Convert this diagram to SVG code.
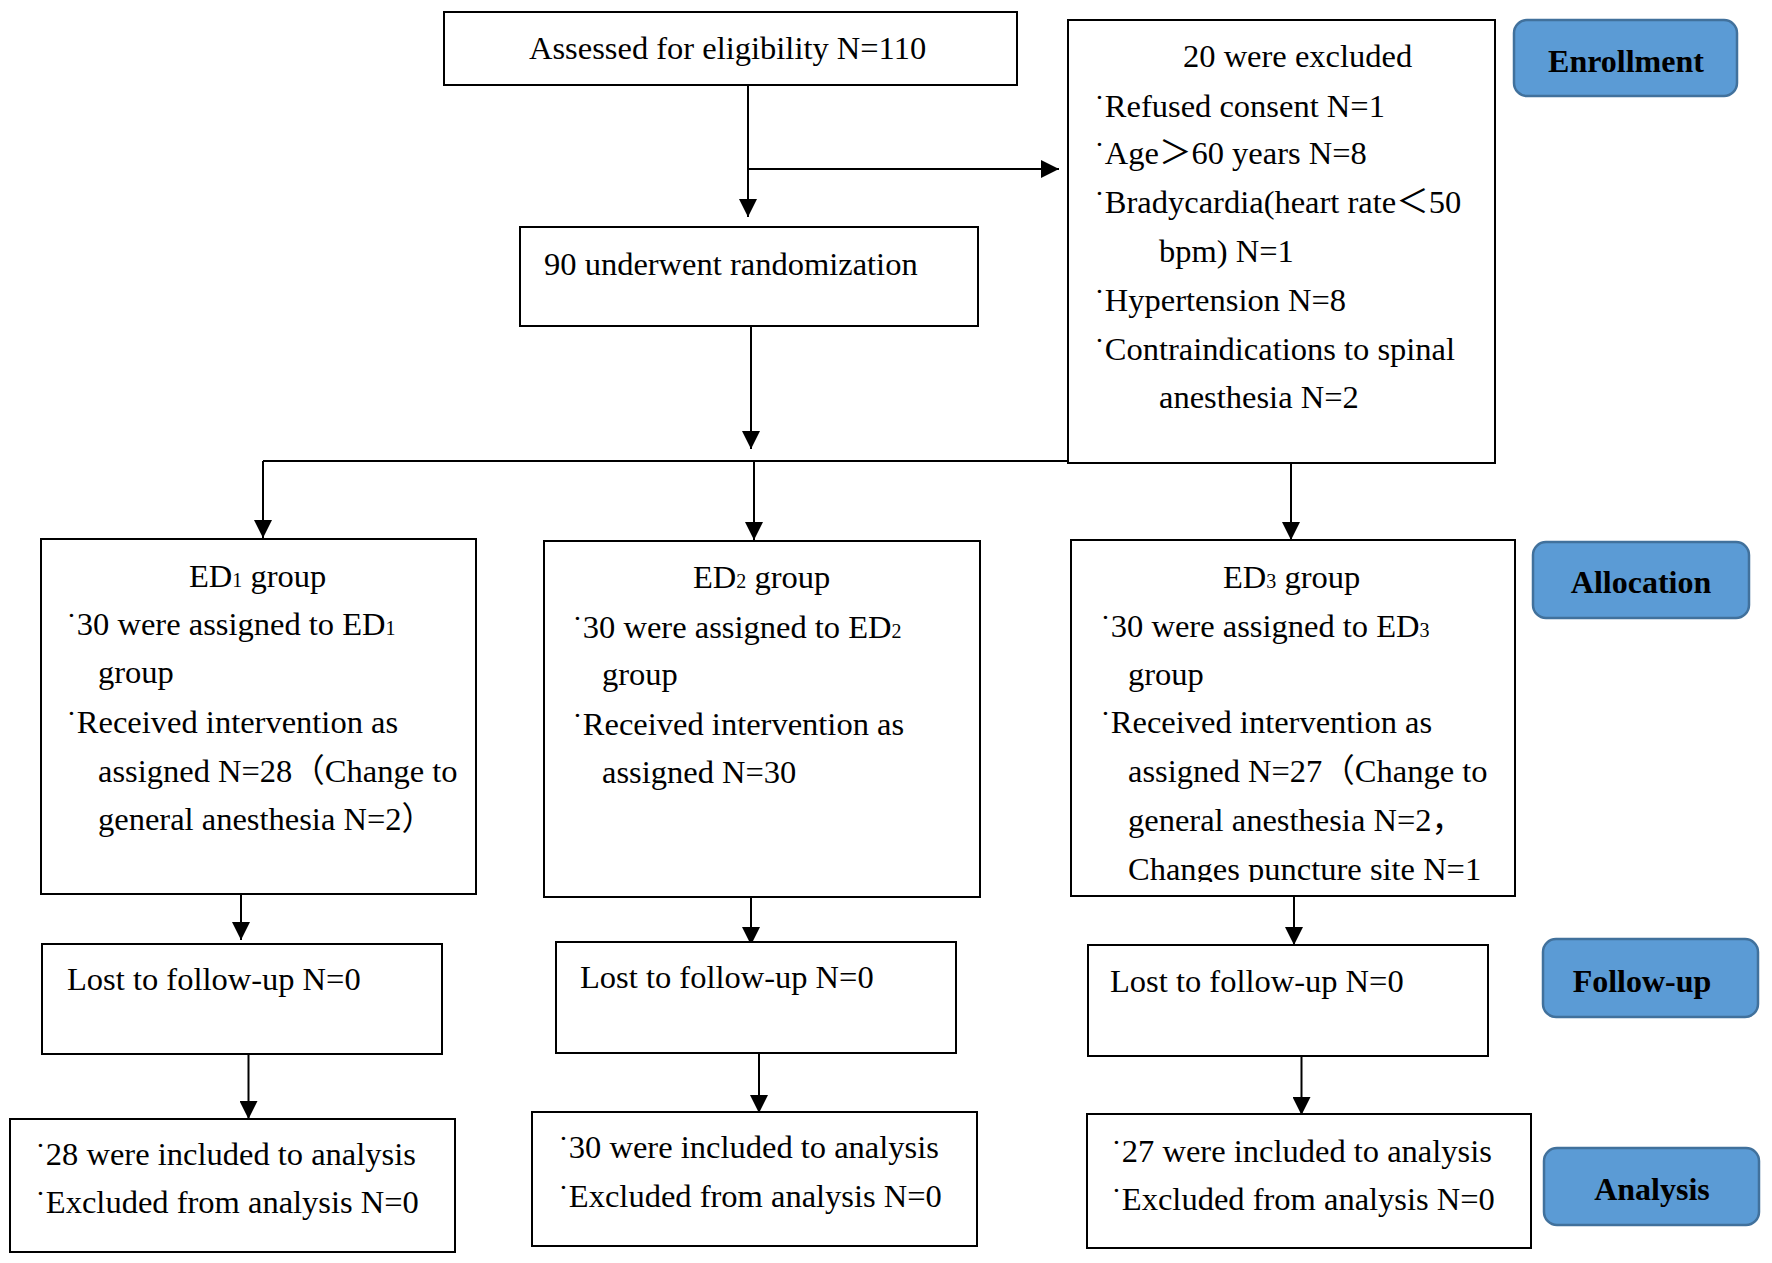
<svg xmlns="http://www.w3.org/2000/svg" width="1772" height="1263" viewBox="0 0 1772 1263">
<style>
.b{fill:#fff;stroke:#000;stroke-width:2}
.t{font-family:"Liberation Serif","Times New Roman","Noto Sans CJK SC",serif;font-size:32.5px;fill:#000}
.sub{font-size:20px}
.s{fill:#5B9BD5;stroke:#41719C;stroke-width:2.5}
.st{font-family:"Liberation Serif","Times New Roman",serif;font-weight:bold;font-size:32px;text-anchor:middle;fill:#000}
.c{stroke:#000;stroke-width:2;fill:none}
.a{marker-end:url(#ah)}
</style>
<defs>
<marker id="ah" viewBox="0 0 18 18" refX="18" refY="9" markerWidth="18" markerHeight="18" markerUnits="userSpaceOnUse" orient="auto">
<path d="M0,0 L18,9 L0,18 z" fill="#000"/>
</marker>
<clipPath id="clipF"><rect x="1071" y="540" width="444" height="342"/></clipPath>
</defs>
<rect width="1772" height="1263" fill="#fff"/>

<g id="connectors">
<path class="c a" d="M748,85 V217"/>
<path class="c a" d="M748,169 H1059"/>
<path class="c a" d="M751,324 V449"/>
<path class="c" d="M263,461 H1291"/>
<path class="c a" d="M263,461 V538"/>
<path class="c a" d="M754,461 V540"/>
<path class="c a" d="M1291,461 V540"/>
<path class="c a" d="M241,894 V940"/>
<path class="c a" d="M248.5,1054 V1119"/>
<path class="c a" d="M751,897 V945"/>
<path class="c a" d="M759,1053 V1113"/>
<path class="c a" d="M1294,896 V945"/>
<path class="c a" d="M1301.5,1056 V1115"/>
</g>

<g id="assessed">
<rect class="b" x="444" y="12" width="573" height="73"/>
<text class="t" x="529" y="59">Assessed for eligibility N=110</text>
</g>

<g id="randomization">
<rect class="b" x="520" y="227" width="458" height="99"/>
<text class="t" x="544" y="275">90 underwent randomization</text>
</g>

<g id="excluded">
<rect class="b" x="1068" y="20" width="427" height="443"/>
<text class="t" x="1183" y="67">20 were excluded</text>
<text class="t" x="1094" y="117">˙Refused consent N=1</text>
<text class="t" x="1094" y="164">˙Age＞60 years N=8</text>
<text class="t" x="1094" y="213">˙Bradycardia(heart rate＜50</text>
<text class="t" x="1159" y="262">bpm) N=1</text>
<text class="t" x="1094" y="311">˙Hypertension N=8</text>
<text class="t" x="1094" y="360">˙Contraindications to spinal</text>
<text class="t" x="1159" y="408">anesthesia N=2</text>
</g>

<g id="ed1">
<rect class="b" x="41" y="539" width="435" height="355"/>
<text class="t" x="189" y="587">ED<tspan class="sub">1</tspan> group</text>
<text class="t" x="66" y="635">˙30 were assigned to ED<tspan class="sub">1</tspan></text>
<text class="t" x="98" y="683">group</text>
<text class="t" x="66" y="733">˙Received intervention as</text>
<text class="t" x="98" y="782">assigned N=28（Change to</text>
<text class="t" x="98" y="830">general anesthesia N=2）</text>
</g>

<g id="ed2">
<rect class="b" x="544" y="541" width="436" height="356"/>
<text class="t" x="693" y="588">ED<tspan class="sub">2</tspan> group</text>
<text class="t" x="572" y="638">˙30 were assigned to ED<tspan class="sub">2</tspan></text>
<text class="t" x="602" y="685">group</text>
<text class="t" x="572" y="735">˙Received intervention as</text>
<text class="t" x="602" y="783">assigned N=30</text>
</g>

<g id="ed3">
<rect class="b" x="1071" y="540" width="444" height="356"/>
<text class="t" x="1223" y="588">ED<tspan class="sub">3</tspan> group</text>
<text class="t" x="1100" y="637">˙30 were assigned to ED<tspan class="sub">3</tspan></text>
<text class="t" x="1128" y="685">group</text>
<text class="t" x="1100" y="733">˙Received intervention as</text>
<text class="t" x="1128" y="782">assigned N=27（Change to</text>
<text class="t" x="1128" y="831">general anesthesia N=2，</text>
<text class="t" x="1128" y="880" clip-path="url(#clipF)">Changes puncture site N=1</text>
</g>

<g id="lost1">
<rect class="b" x="42" y="944" width="400" height="110"/>
<text class="t" x="67" y="990">Lost to follow-up N=0</text>
</g>
<g id="lost2">
<rect class="b" x="556" y="942" width="400" height="111"/>
<text class="t" x="580" y="988">Lost to follow-up N=0</text>
</g>
<g id="lost3">
<rect class="b" x="1088" y="945" width="400" height="111"/>
<text class="t" x="1110" y="992">Lost to follow-up N=0</text>
</g>

<g id="analysis1">
<rect class="b" x="10" y="1119" width="445" height="133"/>
<text class="t" x="35" y="1165">˙28 were included to analysis</text>
<text class="t" x="35" y="1213">˙Excluded from analysis N=0</text>
</g>
<g id="analysis2">
<rect class="b" x="532" y="1112" width="445" height="134"/>
<text class="t" x="558" y="1158">˙30 were included to analysis</text>
<text class="t" x="558" y="1207">˙Excluded from analysis N=0</text>
</g>
<g id="analysis3">
<rect class="b" x="1087" y="1114" width="444" height="134"/>
<text class="t" x="1111" y="1162">˙27 were included to analysis</text>
<text class="t" x="1111" y="1210">˙Excluded from analysis N=0</text>
</g>

<g id="stage-enrollment">
<rect class="s" x="1514" y="20" width="223" height="76" rx="13"/>
<text class="st" x="1626" y="72">Enrollment</text>
</g>
<g id="stage-allocation">
<rect class="s" x="1533" y="542" width="216" height="76" rx="13"/>
<text class="st" x="1641" y="593">Allocation</text>
</g>
<g id="stage-followup">
<rect class="s" x="1543" y="939" width="215" height="78" rx="13"/>
<text class="st" x="1642" y="992">Follow-up</text>
</g>
<g id="stage-analysis">
<rect class="s" x="1544" y="1148" width="215" height="77" rx="13"/>
<text class="st" x="1652" y="1200">Analysis</text>
</g>
</svg>
